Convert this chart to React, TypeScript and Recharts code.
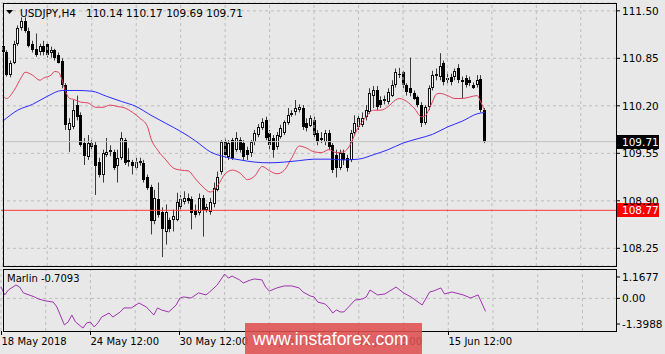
import React from 'react';
import { ComposedChart, Bar, Line, XAxis, YAxis, CartesianGrid, ReferenceLine } from 'recharts';

// time slots on the axis (bars + empty space on the right)
const slots = 166;

const timeLabels = ['18 May 2018', '24 May 12:00', '30 May 12:00', '5 Jun 12:00', '11 Jun 12:00', '15 Jun 12:00'];
const timeLabelAt = [0, 24, 48, 72, 96, 120];
const gridAt = [0, 12, 24, 36, 48, 60, 72, 84, 96, 108, 120, 132, 144, 156];

const priceTicks = [108.25, 108.9, 109.55, 110.2, 110.85, 111.5];
const marlinTicks = [1.1677, 0, -1.3988];
const marlinTickText = ['1.1677', '0.00', '-1.3988'];

// USDJPY H4 candles
const opens = [
  111.02, 110.93, 110.62, 110.79, 111.05, 111.26, 111.36, 111.23, 111.05, 110.98,
  110.93, 111.02, 111.04, 110.92, 110.96, 110.89, 110.82, 110.48, 109.87, 109.91,
  110.21, 110.07, 109.69, 109.50, 109.69, 109.66, 109.43, 109.26, 109.53, 109.57,
  109.57, 109.37, 109.49, 109.73, 109.46, 109.43, 109.35, 109.42, 109.42, 109.22,
  109.09, 108.62, 108.92, 108.75, 108.48, 108.64, 108.64, 108.64, 108.82, 108.88,
  108.94, 108.92, 108.78, 108.74, 108.94, 108.78, 108.75, 108.85, 109.05, 109.30,
  109.71, 109.50, 109.73, 109.60, 109.73, 109.69, 109.60, 109.56, 109.71, 109.80,
  109.89, 110.00, 109.83, 109.76, 109.64, 109.77, 109.83, 109.96, 110.07, 110.11,
  110.14, 110.17, 109.96, 109.92, 110.00, 109.83, 109.76, 109.71, 109.83, 109.66,
  109.53, 109.35, 109.56, 109.49, 109.46, 109.83, 109.91, 109.94, 110.05, 110.11,
  110.34, 110.41, 110.28, 110.28, 110.25, 110.34, 110.48, 110.64, 110.66, 110.48,
  110.44, 110.37, 110.32, 110.21, 109.96, 110.18, 110.44, 110.62, 110.59, 110.78,
  110.58, 110.59, 110.59, 110.72, 110.55, 110.58, 110.55, 110.48, 110.48, 110.57,
  110.14,
];
const highs = [
  111.12, 110.96, 110.82, 111.09, 111.30, 111.41, 111.41, 111.27, 111.09, 111.19,
  111.05, 111.09, 111.07, 111.01, 110.98, 110.93, 110.85, 110.51, 110.03, 110.28,
  110.34, 110.11, 109.76, 109.80, 109.73, 109.71, 109.49, 109.60, 109.76, 109.66,
  109.60, 109.60, 109.84, 109.76, 109.62, 109.46, 109.49, 109.49, 109.46, 109.26,
  109.12, 109.05, 109.15, 108.81, 108.85, 108.67, 108.78, 109.01, 108.98, 109.03,
  109.00, 108.96, 108.85, 109.00, 108.98, 108.86, 108.94, 109.15, 109.30, 109.73,
  109.76, 109.73, 109.76, 109.84, 109.77, 109.73, 109.64, 109.73, 109.87, 109.95,
  110.03, 110.05, 109.87, 109.80, 109.84, 109.94, 110.00, 110.17, 110.14, 110.28,
  110.22, 110.21, 110.03, 110.07, 110.05, 109.87, 109.84, 109.87, 109.87, 109.69,
  109.60, 109.60, 109.60, 109.53, 109.87, 110.07, 110.07, 110.11, 110.21, 110.44,
  110.47, 110.47, 110.33, 110.34, 110.44, 110.55, 110.71, 110.72, 110.68, 110.51,
  110.86, 110.41, 110.34, 110.25, 110.21, 110.48, 110.68, 110.71, 110.92, 110.82,
  110.66, 110.64, 110.71, 110.77, 110.60, 110.62, 110.60, 110.52, 110.62, 110.62,
  110.17,
];
const lows = [
  110.89, 110.60, 110.59, 110.77, 111.02, 111.23, 111.20, 111.00, 110.93, 110.87,
  110.89, 110.89, 110.86, 110.86, 110.82, 110.78, 110.44, 109.87, 109.57, 109.88,
  110.00, 109.64, 109.39, 109.46, 109.60, 108.98, 109.22, 109.15, 109.50, 109.51,
  109.32, 109.15, 109.46, 109.39, 109.37, 109.26, 109.32, 109.38, 109.15, 109.05,
  108.44, 108.58, 108.67, 108.13, 108.30, 108.47, 108.48, 108.62, 108.78, 108.85,
  108.86, 108.51, 108.67, 108.70, 108.41, 108.74, 108.71, 108.81, 109.03, 109.26,
  109.49, 109.46, 109.46, 109.57, 109.56, 109.46, 109.46, 109.50, 109.66, 109.77,
  109.87, 109.73, 109.60, 109.49, 109.60, 109.75, 109.80, 109.94, 110.05, 110.07,
  110.11, 109.87, 109.85, 109.91, 109.77, 109.66, 109.69, 109.66, 109.60, 109.28,
  109.22, 109.32, 109.39, 109.30, 109.43, 109.80, 109.87, 109.91, 110.00, 110.09,
  110.17, 110.14, 110.17, 110.22, 110.22, 110.32, 110.45, 110.58, 110.44, 110.34,
  110.33, 110.28, 110.18, 109.91, 109.94, 110.14, 110.41, 110.55, 110.55, 110.48,
  110.49, 110.48, 110.55, 110.51, 110.30, 110.45, 110.47, 110.43, 110.45, 110.11,
  109.69,
];
const closes = [
  110.93, 110.62, 110.79, 111.05, 111.26, 111.36, 111.23, 111.02, 110.96, 110.90,
  111.02, 110.93, 110.89, 110.96, 110.86, 110.79, 110.48, 109.94, 109.96, 110.14,
  110.05, 109.66, 109.51, 109.69, 109.64, 109.37, 109.26, 109.56, 109.57, 109.60,
  109.35, 109.49, 109.76, 109.42, 109.43, 109.37, 109.43, 109.44, 109.19, 109.08,
  108.62, 108.94, 108.71, 108.51, 108.75, 108.51, 108.69, 108.88, 108.92, 108.94,
  108.90, 108.74, 108.71, 108.94, 108.78, 108.82, 108.89, 109.08, 109.23, 109.71,
  109.53, 109.69, 109.49, 109.76, 109.60, 109.50, 109.53, 109.71, 109.83, 109.91,
  109.98, 109.76, 109.66, 109.60, 109.80, 109.90, 109.98, 110.07, 110.10, 110.17,
  110.18, 109.91, 109.90, 110.03, 109.80, 109.71, 109.73, 109.83, 109.64, 109.32,
  109.35, 109.56, 109.46, 109.35, 109.83, 109.96, 110.03, 110.03, 110.14, 110.37,
  110.41, 110.18, 110.21, 110.30, 110.39, 110.48, 110.66, 110.62, 110.48, 110.39,
  110.37, 110.30, 110.21, 109.96, 110.18, 110.45, 110.62, 110.64, 110.75, 110.52,
  110.55, 110.52, 110.68, 110.55, 110.52, 110.49, 110.51, 110.45, 110.56, 110.14,
  109.71,
];

// moving averages: [bar, price]
const redMa = [
  [0, 110.34], [1, 110.30], [3, 110.41], [5, 110.59], [6, 110.66], [8, 110.62], [10, 110.55],
  [11, 110.58], [13, 110.62], [14, 110.67], [15, 110.66], [16, 110.55], [17, 110.39], [18, 110.30],
  [19, 110.29], [21, 110.25], [23, 110.24], [25, 110.18], [27, 110.18], [29, 110.21], [31, 110.19],
  [33, 110.17], [35, 110.11], [37, 110.03], [39, 109.92], [40, 109.75], [42, 109.58], [44, 109.46],
  [46, 109.35], [48, 109.32], [50, 109.31], [52, 109.20], [54, 109.09], [56, 109.02], [58, 109.11],
  [60, 109.27], [62, 109.32], [64, 109.28], [66, 109.19], [68, 109.24], [70, 109.37], [72, 109.31],
  [74, 109.27], [76, 109.32], [78, 109.49], [80, 109.65], [82, 109.62], [84, 109.57], [86, 109.56],
  [88, 109.60], [90, 109.56], [92, 109.57], [93, 109.61], [94, 109.69], [95, 109.81], [96, 109.91],
  [97, 109.98], [98, 110.05], [100, 110.14], [102, 110.14], [104, 110.19], [106, 110.28], [107, 110.30],
  [109, 110.26], [111, 110.17], [113, 110.05], [114, 110.06], [115, 110.15], [116, 110.26], [117, 110.36],
  [118, 110.37], [120, 110.34], [122, 110.30], [124, 110.30], [126, 110.32], [128, 110.34], [129, 110.25],
  [130, 110.14],
];
const blueMa = [
  [0, 109.99], [4, 110.14], [8, 110.22], [12, 110.33], [16, 110.41], [20, 110.41], [24, 110.40],
  [28, 110.33], [32, 110.26], [36, 110.19], [40, 110.07], [44, 109.96], [48, 109.85], [52, 109.72],
  [56, 109.57], [60, 109.50], [64, 109.46], [68, 109.43], [72, 109.42], [76, 109.43], [80, 109.45],
  [84, 109.47], [88, 109.47], [92, 109.46], [96, 109.47], [100, 109.53], [104, 109.60], [108, 109.69],
  [112, 109.75], [116, 109.81], [120, 109.91], [124, 109.99], [128, 110.09], [130, 110.11],
];
const marlin = [
  [0, 0.62], [1, 0.19], [2, 0.46], [4, 0.73], [5, 0.62], [6, 0.3], [9, 0.08], [10, -0.03], [12, -0.14],
  [14, -0.2], [15, -0.47], [17, -1.45], [18, -1.29], [19, -0.91], [20, -1.29], [22, -1.62], [23, -1.34],
  [24, -1.29], [25, -1.56], [26, -1.34], [27, -1.02], [29, -0.8], [30, -1.02], [32, -0.74], [33, -0.52],
  [35, -0.52], [37, -0.25], [39, -0.47], [41, -0.91], [42, -0.52], [43, -0.63], [45, -0.74], [47, -0.36],
  [48, 0.02], [49, 0.08], [51, 0.02], [53, 0.3], [55, 0.19], [56, 0.35], [58, 0.73], [60, 1.33],
  [61, 1.11], [62, 1.22], [64, 1.01], [65, 0.84], [67, 1.01], [68, 1.06], [70, 1.01], [71, 0.62],
  [72, 0.4], [74, 0.57], [76, 0.68], [78, 0.68], [80, 0.57], [81, 0.35], [83, 0.13], [84, 0.08],
  [85, -0.2], [87, -0.31], [88, -0.52], [89, -0.8], [90, -0.63], [91, -0.74], [92, -0.74], [95, -0.09],
  [97, -0.03], [98, 0.08], [99, 0.46], [101, 0.19], [103, 0.24], [106, 0.62], [108, 0.3], [110, 0.08],
  [113, -0.36], [115, 0.35], [116, 0.4], [118, 0.57], [119, 0.24], [121, 0.35], [124, 0.19], [126, 0.02],
  [128, 0.19], [130, -0.7093],
];

const rows: any[] = Array.from({ length: slots }, (_, i) => ({
  i,
  range: i < closes.length ? [lows[i], highs[i]] : null,
  o: opens[i],
  h: highs[i],
  l: lows[i],
  c: closes[i],
  red: null,
  blue: null,
  marlin: null,
}));
redMa.forEach(([i, v]) => (rows[i].red = v));
blueMa.forEach(([i, v]) => (rows[i].blue = v));
marlin.forEach(([i, v]) => (rows[i].marlin = v));

const font = 'DejaVu Sans';
const gridColor = '#bdbdbd';

const Candle = (props: any) => {
  const { x, y, width, height, payload } = props;
  if (!payload || payload.range == null || !isFinite(y)) return null;
  const { o, h, l, c } = payload;
  const k = h - l > 0 ? height / (h - l) : 0;
  const cx = Math.floor(x + width / 2) + 0.5;
  const yo = y + (h - o) * k;
  const yc = y + (h - c) * k;
  const top = Math.round(Math.min(yo, yc));
  const bot = Math.max(Math.round(Math.max(yo, yc)), top + 1);
  return (
    <g>
      <line x1={cx} x2={cx} y1={y} y2={y + height} stroke="#3a3a3a" />
      {c >= o ? (
        <rect x={cx - 1} y={top + 0.5} width={2} height={Math.max(bot - top - 1, 1)} fill="#fff" stroke="#111" />
      ) : (
        <rect x={cx - 1.5} y={top} width={3} height={bot - top} fill="#000" />
      )}
    </g>
  );
};

const PriceTick = (props: any) => {
  const { x, y, payload } = props;
  return (
    <g>
      <line x1={x} x2={x + 4} y1={y} y2={y} stroke="#000" />
      <text x={x + 6} y={y + 4} fontSize={10.5} fontFamily={font} fill="#000">
        {Number(payload.value).toFixed(2)}
      </text>
    </g>
  );
};

const MarlinTick = (props: any) => {
  const { x, y, payload } = props;
  const k = marlinTicks.indexOf(payload.value);
  return (
    <g>
      <line x1={x} x2={x + 4} y1={y} y2={y} stroke="#000" />
      <text x={x + 6} y={y + 4} fontSize={10.5} fontFamily={font} fill="#000">
        {k >= 0 ? marlinTickText[k] : ''}
      </text>
    </g>
  );
};

const TimeTick = (props: any) => {
  const { x, y, payload } = props;
  const k = timeLabelAt.indexOf(payload.value);
  if (k < 0) return null;
  const lx = Math.floor(x) + 0.5;
  return (
    <g>
      <line x1={lx} x2={lx} y1={y} y2={y + 4} stroke="#000" />
      <text x={lx} y={y + 14} fontSize={10} fontFamily={font} fill="#000">
        {timeLabels[k]}
      </text>
    </g>
  );
};

const PriceTag = (props: any) => {
  const { viewBox, text, bg } = props;
  if (!viewBox) return null;
  const right = viewBox.x + viewBox.width;
  const cy = Math.round(viewBox.y);
  return (
    <g>
      <rect x={right + 1} y={cy - 7} width={42} height={14} fill={bg} />
      <text x={right + 6} y={cy + 4} fontSize={10.5} fontFamily={font} fill="#fff">
        {text}
      </text>
    </g>
  );
};

export default function App() {
  return (
    <div style={{ position: 'absolute', left: 0, top: 0, width: 665, height: 354, background: '#e8e8e8', overflow: 'hidden', fontFamily: font }}>
      <div style={{ position: 'absolute', left: 0, top: 0 }}>
        <ComposedChart width={665} height={268} data={rows} margin={{ top: 3, right: 0, left: 1, bottom: 2 }} barCategoryGap={0}>
          <CartesianGrid vertical={false} stroke={gridColor} strokeDasharray="3 3" />
          <XAxis dataKey="i" hide />
          <YAxis
            orientation="right"
            width={49}
            domain={[108.008, 111.607]}
            allowDataOverflow
            ticks={priceTicks}
            interval={0}
            tickSize={0}
            tickMargin={0}
            axisLine={false}
            tick={<PriceTick />}
          />
          {gridAt.map((g) => (
            <ReferenceLine key={g} x={g} stroke={gridColor} strokeDasharray="3 3" />
          ))}
          <ReferenceLine y={109.71} stroke="#c2c2c2" label={<PriceTag text="109.71" bg="#000" />} />
          <ReferenceLine y={108.77} stroke="#ff3a3a" label={<PriceTag text="108.77" bg="#ff0000" />} />
          <Bar dataKey="range" shape={Candle} isAnimationActive={false} />
          <Line dataKey="red" type="monotone" stroke="#e0405c" strokeWidth={1} dot={false} connectNulls isAnimationActive={false} />
          <Line dataKey="blue" type="monotone" stroke="#2a2aff" strokeWidth={1} dot={false} connectNulls isAnimationActive={false} />
        </ComposedChart>
      </div>
      <div style={{ position: 'absolute', left: 0, top: 266 }}>
        <ComposedChart width={665} height={88} data={rows} margin={{ top: 3, right: 0, left: 1, bottom: 0 }}>
          <XAxis dataKey="i" height={23} interval={0} tickSize={0} tickMargin={0} axisLine={false} tick={<TimeTick />} />
          <YAxis
            orientation="right"
            width={49}
            domain={[-1.781, 1.605]}
            allowDataOverflow
            ticks={marlinTicks}
            interval={0}
            tickSize={0}
            tickMargin={0}
            axisLine={false}
            tick={<MarlinTick />}
          />
          {gridAt.map((g) => (
            <ReferenceLine key={g} x={g} stroke={gridColor} strokeDasharray="3 3" />
          ))}
          <ReferenceLine y={0} stroke={gridColor} strokeDasharray="3 3" />
          <Line dataKey="marlin" type="linear" stroke="#a033b0" strokeWidth={1} dot={false} connectNulls isAnimationActive={false} />
        </ComposedChart>
      </div>
      <div style={{ position: 'absolute', left: 3, top: 3, width: 614, height: 264, border: '1px solid #000', boxSizing: 'border-box' }} />
      <div style={{ position: 'absolute', left: 3, top: 269, width: 614, height: 63, border: '1px solid #000', boxSizing: 'border-box' }} />
      <svg style={{ position: 'absolute', left: 6, top: 10 }} width={8} height={5}>
        <polygon points="0,0 7,0 3.5,4" fill="#000" />
      </svg>
      <div style={{ position: 'absolute', left: 20, top: 7, fontSize: 10.5, lineHeight: '12px', whiteSpace: 'pre', color: '#000' }}>
        {'USDJPY,H4   110.14 110.17 109.69 109.71'}
      </div>
      <div style={{ position: 'absolute', left: 7, top: 273, fontSize: 10, lineHeight: '12px', whiteSpace: 'pre', color: '#000' }}>
        {'Marlin -0.7093'}
      </div>
      <div style={{ position: 'absolute', left: 245, top: 323, width: 177, height: 31, background: 'rgba(222, 78, 78, 0.88)' }}>
        <div style={{ position: 'absolute', left: 8, top: 6, fontFamily: 'Liberation Sans', fontSize: 17.5, lineHeight: '20px', color: '#fff', whiteSpace: 'pre' }}>
          www.instaforex.com
        </div>
      </div>
    </div>
  );
}
